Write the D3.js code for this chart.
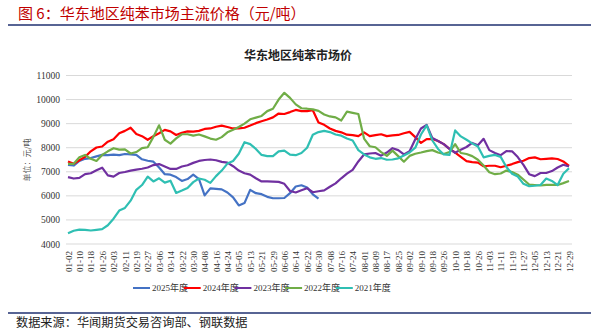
<!DOCTYPE html>
<html><head><meta charset="utf-8">
<script src="https://cdn.jsdelivr.net/npm/d3@7"></script>
<style>
html,body{margin:0;padding:0;background:#fff;}
svg{display:block;}
</style>
</head><body>
<svg id="c" width="596" height="332"></svg>
<script>
// Tick labels (category positions, one every ~6 trading days)
const tickLabels = ["01-02","01-10","01-18","01-26","02-03","02-11","02-19","02-27","03-06","03-14","03-22","03-30","04-08","04-16","04-24","05-05","05-13","05-21","05-29","06-06","06-14","06-22","06-30","07-08","07-16","07-24","08-01","08-09","08-17","08-25","09-02","09-10","09-18","09-26","10-10","10-18","10-26","11-03","11-11","11-19","11-27","12-05","12-13","12-21","12-29"];
const yTicks = [4000,5000,6000,7000,8000,9000,10000,11000];
const seriesNames = ["2025年度","2024年度","2023年度","2022年度","2021年度"];
// values sampled every half tick-label step
const s2025 = [7290,7260,7450,7540,7570,7640,7700,7690,7710,7690,7740,7720,7700,7520,7460,7420,7180,6900,6880,6780,6620,6700,6880,6700,6020,6310,6290,6270,6140,5940,5600,5700,6250,6110,6070,5960,5900,5900,5910,6110,6390,6440,6350,6060,5880];
const s2024 = [7430,7330,7480,7620,7850,8010,8050,8250,8350,8600,8700,8830,8570,8480,8330,8480,8600,8740,8680,8530,8620,8680,8670,8700,8780,8800,8870,8920,8860,8800,8800,8830,8920,9020,9100,9170,9260,9420,9400,9480,9570,9520,9520,9560,9050,8950,8800,8700,8640,8540,8520,8480,8640,8480,8520,8560,8480,8510,8530,8600,8660,8440,8200,8360,8360,8280,8150,7950,7800,7620,7440,7400,7380,7230,7250,7250,7190,7250,7320,7400,7460,7570,7600,7520,7540,7560,7530,7430,7250];
const s2023 = [6780,6720,6750,6900,6940,7060,7170,6850,6800,6950,6990,7050,7090,7125,7180,7280,7320,7220,7120,7120,7220,7270,7370,7450,7490,7510,7480,7410,7380,7230,7050,6940,6880,6730,6600,6600,6590,6580,6500,6200,6140,6230,6320,6150,6190,6230,6380,6520,6730,6920,7080,7430,7720,7760,7780,7670,7800,7980,7900,7720,7850,8350,8800,8950,8400,8280,8150,7950,7790,7920,8030,8200,8100,8370,7900,7780,7690,7860,7850,7610,7290,6900,6820,6950,6950,7030,7180,7290,7220];
const s2022 = [7330,7330,7600,7700,7540,7450,7700,7850,7980,7920,7930,7760,7820,7980,8020,8450,8930,8330,8170,8390,8560,8560,8500,8550,8470,8380,8330,8440,8640,8750,8860,9000,9180,9250,9320,9520,9620,10000,10280,10070,9800,9640,9620,9590,9530,9380,9300,9260,9130,9500,9450,9400,8380,8060,8020,7820,7660,7880,7650,7420,7660,7750,7800,7860,7900,7800,7740,7820,8150,7780,7740,7650,7500,7260,6980,6900,6930,7050,6990,6880,6680,6470,6450,6430,6460,6460,6450,6530,6620];
const s2021 = [4450,4550,4600,4590,4560,4590,4620,4780,5050,5390,5500,5800,6250,6450,6800,6600,6730,6550,6630,6120,6220,6330,6570,6720,6670,6540,6820,7050,7340,7450,7750,8230,8150,7950,7700,7650,7650,7850,7880,7710,7690,7780,8000,8540,8650,8700,8650,8550,8500,8380,8300,7900,7720,7600,7540,7570,7500,7510,7560,7680,7800,8000,8550,8930,8300,7950,7720,7700,8720,8470,8330,8180,8050,7600,7660,7700,7620,7200,6920,6800,6500,6400,6420,6450,6720,6620,6450,6920,7150];
const seriesData = [s2025, s2024, s2023, s2022, s2021];
const colors = ["#4472c4","#ff0000","#7030a0","#70ad47","#2fbfb3"];

const svg = d3.select("#c");
const cjk = "'Noto Sans CJK SC', sans-serif";
const serif = "'Liberation Serif', 'Noto Sans CJK SC', serif";

// header
svg.append("text").attr("x",18).attr("y",19).attr("fill","#c00000")
  .attr("font-family",cjk).attr("font-size",15).text("图 6：华东地区纯苯市场主流价格（元/吨）");
svg.append("line").attr("x1",8).attr("x2",591).attr("y1",25).attr("y2",25)
  .attr("stroke","#1f3170").attr("stroke-width",1.5);

// footer
svg.append("line").attr("x1",8).attr("x2",591).attr("y1",313).attr("y2",313)
  .attr("stroke","#1f3170").attr("stroke-width",1.5);
svg.append("text").attr("x",16).attr("y",327).attr("fill","#222")
  .attr("font-family",cjk).attr("font-size",12.2).text("数据来源：华闻期货交易咨询部、钢联数据");

// chart title
svg.append("text").attr("x",298).attr("y",60).attr("text-anchor","middle")
  .attr("font-family",cjk).attr("font-weight",700).attr("font-size",12).attr("fill","#222")
  .text("华东地区纯苯市场价");

const x = d3.scaleLinear().domain([0, tickLabels.length-1]).range([68, 569]);
const y = d3.scaleLinear().domain([4000, 11000]).range([244, 75.5]);

// gridlines
svg.append("g").selectAll("line").data(yTicks).join("line")
  .attr("x1",66).attr("x2",572).attr("y1",d=>y(d)).attr("y2",d=>y(d))
  .attr("stroke","#d9d9d9").attr("stroke-width",1);

// y axis labels
const yAxis = d3.axisLeft(y).tickValues(yTicks).tickSize(0).tickPadding(0).tickFormat(d3.format("d"));
const gy = svg.append("g").attr("transform","translate(60,0)").call(yAxis);
gy.select(".domain").remove();
gy.selectAll("text").attr("font-family",serif).attr("font-size",9.5).attr("fill","#333");

// y title
svg.append("text").attr("transform","translate(30,160) rotate(-90)").attr("text-anchor","middle")
  .attr("font-family",cjk).attr("font-size",8).attr("fill","#555").text("单位：元/吨");

// x axis labels
const xAxis = d3.axisBottom(x).tickValues(d3.range(tickLabels.length)).tickSize(0).tickPadding(0)
  .tickFormat(i=>tickLabels[i]);
const gx = svg.append("g").attr("transform","translate(0,251)").call(xAxis);
gx.select(".domain").remove();
gx.selectAll("text").attr("font-family",serif).attr("font-size",9).attr("fill","#333")
  .attr("text-anchor","end").attr("dy","0.35em").attr("y",0).attr("x",0)
  .attr("transform","rotate(-90)");

// lines
const line = d3.line().x((d,i)=>x(i*0.5)).y(d=>y(d));
svg.append("g").selectAll("path").data(seriesData).join("path")
  .attr("d",d=>line(d)).attr("fill","none")
  .attr("stroke",(d,i)=>colors[i]).attr("stroke-width",2.2).attr("stroke-linejoin","round");

// legend
const lg = svg.append("g").selectAll("g").data(seriesNames).join("g")
  .attr("transform",(d,i)=>`translate(${133 + i*50.7},288)`);
lg.append("line").attr("x1",0).attr("x2",17).attr("stroke",(d,i)=>colors[i]).attr("stroke-width",2);
lg.append("text").attr("x",19).attr("dy","0.35em").attr("font-family",serif).attr("font-size",9)
  .attr("fill","#333").text(d=>d);
</script>
</body></html>
